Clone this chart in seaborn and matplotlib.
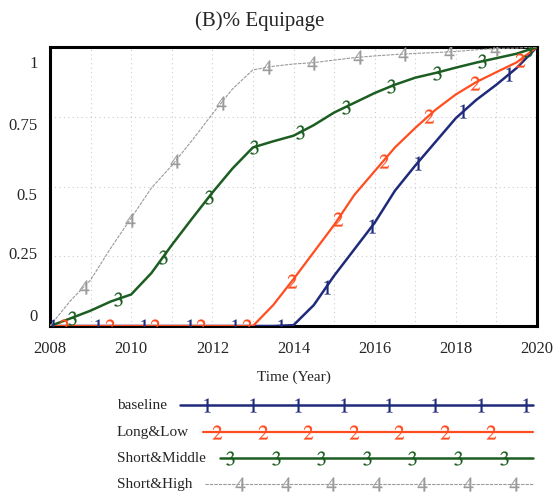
import numpy as np
import pandas as pd
import seaborn as sns
import matplotlib
import matplotlib.pyplot as plt
from matplotlib.transforms import ScaledTranslation

matplotlib.use("Agg")

# half-year time grid
years = [2008 + 0.5 * i for i in range(25)]

baseline = [0, 0, 0, 0, 0, 0, 0, 0, 0, 0, 0, 0, 0.003, 0.075, 0.18, 0.275,
            0.37, 0.485, 0.575, 0.66, 0.745, 0.81, 0.865, 0.925, 1.0]
long_low = [0, 0, 0, 0, 0, 0, 0, 0, 0, 0, 0, 0.075, 0.168, 0.265, 0.362, 0.47,
            0.555, 0.64, 0.71, 0.775, 0.83, 0.874, 0.91, 0.945, 1.0]
short_middle = [0, 0.027, 0.055, 0.088, 0.113, 0.19, 0.29, 0.385, 0.478, 0.565,
                0.64, 0.662, 0.682, 0.72, 0.765, 0.80, 0.835, 0.865, 0.89,
                0.907, 0.926, 0.944, 0.96, 0.976, 1.0]
short_high = [0, 0.09, 0.165, 0.28, 0.387, 0.495, 0.575, 0.665, 0.76, 0.85,
              0.918, 0.931, 0.939, 0.944, 0.953, 0.962, 0.968, 0.973, 0.977,
              0.98, 0.984, 0.99, 0.995, 0.996, 1.0]

series_names = ["baseline", "Long&Low", "Short&Middle", "Short&High"]
series_values = [baseline, long_low, short_middle, short_high]
series_tags = ["1", "2", "3", "4"]
colors = ["#1f2a7a", "#ff4d1f", "#1c5e22", "#9a9a9a"]
widths = [1.8, 1.6, 1.8, 0.8]
styles = ["-", "-", "-", (0, (3, 1))]
mark_start = [2008.07, 2008.35, 2008.54, 2008.84]
mark_step = 1.124

xticks = [2008, 2010, 2012, 2014, 2016, 2018, 2020]
yticks = [0, 0.25, 0.5, 0.75, 1]
ytick_labels = ["0", "0.25", "0.5", "0.75", "1"]

sns.set_style("white")
plt.rcParams["font.family"] = ["Liberation Serif", "DejaVu Serif"]
plt.rcParams["mathtext.fontset"] = "stix"

fig = plt.figure(figsize=(5.55, 4.98), dpi=100)
ax = fig.add_axes([50 / 555, 172 / 498, 487 / 555, 279 / 498])

for name, vals, tag, col, lw, ls, ms in zip(series_names, series_values, series_tags,
                                              colors, widths, styles, mark_start):
    df = pd.DataFrame({"Year": years, "Value": vals})
    sns.lineplot(data=df, x="Year", y="Value", ax=ax, color=col, lw=lw,
                 linestyle=ls, zorder=3)
    mx = np.arange(ms, 2020.01, mark_step)
    my = np.interp(mx, years, vals)
    ax.plot(mx, my, linestyle="none", marker="$" + tag + "$", color=col,
            markersize=10, markeredgewidth=0.2, zorder=4)

ax.set_xlim(2008, 2020)
ax.set_ylim(0, 1)
ax.set_xticks(xticks)
ax.set_xticklabels([str(x) for x in xticks], fontsize=12)
ax.set_yticks(yticks)
ax.set_yticklabels(ytick_labels, fontsize=12)
ax.tick_params(axis="x", length=0, pad=11)
ax.tick_params(axis="y", length=0, pad=9)
ax.set_xlabel("")
ax.set_ylabel("")

# scanned original has its y labels slightly off their gridlines
for lab, dy in zip(ax.get_yticklabels(), [11, 3, -7, -7, -15]):
    lab.set_transform(lab.get_transform() + ScaledTranslation(0, dy / 100, fig.dpi_scale_trans))

ax.set_xticks(range(2009, 2020), minor=True)
ax.grid(True, which="both", axis="x", color="#cccccc", linestyle=(0, (1, 3)), lw=0.8)
ax.grid(True, which="major", axis="y", color="#cccccc", linestyle=(0, (1, 3)), lw=0.8)
for sp in ax.spines.values():
    sp.set_visible(True)
    sp.set_color("black")
    sp.set_linewidth(2.2)

fig.text(260 / 555, 1 - 21 / 498, "(B)% Equipage", ha="center", va="center", fontsize=15)
fig.text(294 / 555, 1 - 377 / 498, "Time (Year)", ha="center", va="center", fontsize=11)

# legend drawn below the chart
lg = fig.add_axes([0, 0, 1, 380 / 498])
lg.set_xlim(0, 555)
lg.set_ylim(0, 380)
lg.axis("off")
row_y = [93, 66, 40, 14]
line_start = [180, 203, 220, 205]
first_mark = [207, 217, 230, 240]
n_marks = [8, 7, 7, 7]
for name, tag, col, lw, ls, yy, xs, fm, nm in zip(series_names, series_tags, colors,
                                                    widths, styles, row_y, line_start,
                                                    first_mark, n_marks):
    lg.text(117, yy, name, ha="left", va="center", fontsize=11)
    lg.plot([xs, 533], [yy, yy], color=col, lw=lw, linestyle=ls)
    lx = fm + 45.6 * np.arange(nm)
    lg.plot(lx, [yy] * nm, linestyle="none", marker="$" + tag + "$", color=col,
            markersize=10, markeredgewidth=0.2)

fig.savefig("out.png", dpi=100)
